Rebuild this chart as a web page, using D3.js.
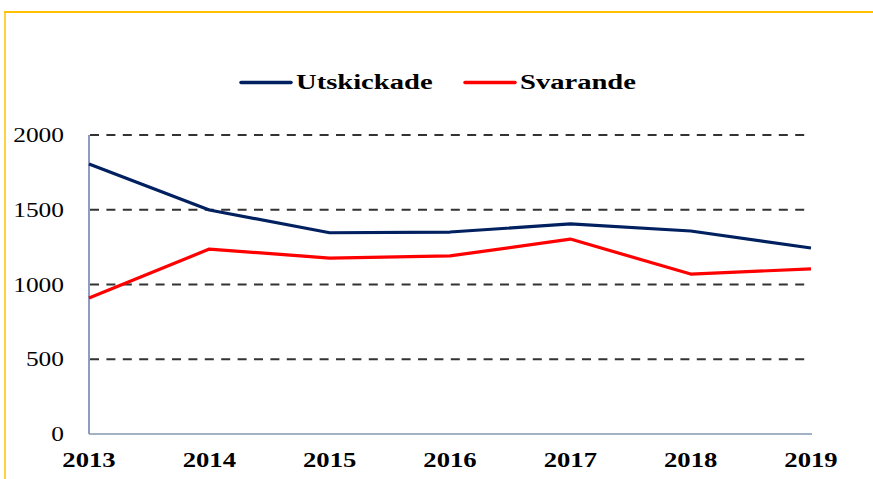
<!DOCTYPE html>
<html><head><meta charset="utf-8">
<script src="https://cdn.jsdelivr.net/npm/d3@7"></script>
<style>html,body{margin:0;padding:0;background:#fff;}svg{display:block;}</style>
</head><body>
<svg id="c" width="873" height="479"></svg>
<script>
const years = ["2013","2014","2015","2016","2017","2018","2019"];
const utskickade = [1806, 1498, 1346, 1351, 1405, 1358, 1244];
const svarande = [910, 1237, 1177, 1191, 1304, 1070, 1104];
const yTicks = [0, 500, 1000, 1500, 2000];
const seriesNames = ["Utskickade", "Svarande"];
const seriesColors = ["#002060", "#ff0000"];

const svg = d3.select("#c");
const SX = 1.27;

// yellow frame
svg.append("line").attr("x1",4).attr("x2",873).attr("y1",12).attr("y2",12).attr("stroke","#ffc000").attr("stroke-width",2);
svg.append("line").attr("x1",5).attr("x2",5).attr("y1",11).attr("y2",479).attr("stroke","#ffc000").attr("stroke-width",1.5);

const x = d3.scalePoint().domain(years).range([89, 811]);
const y = d3.scaleLinear().domain([0, 2000]).range([434, 135]);

// gridlines
svg.append("g").selectAll("line").data(yTicks.filter(d=>d>0)).join("line")
  .attr("x1",90).attr("x2",811).attr("y1",d=>y(d)).attr("y2",d=>y(d))
  .attr("stroke","#333").attr("stroke-width",2).attr("stroke-dasharray","9,7.4");

// axes lines
svg.append("line").attr("x1",89).attr("x2",89).attr("y1",y(2000)).attr("y2",y(0)).attr("stroke","#203a80").attr("stroke-width",1);
svg.append("line").attr("x1",89).attr("x2",812).attr("y1",y(0)).attr("y2",y(0)).attr("stroke","#8497b0").attr("stroke-width",1.5);

// y labels
svg.append("g").selectAll("text").data(yTicks).join("text")
  .attr("transform",d=>`translate(64,${y(d)+7}) scale(${SX},1)`)
  .attr("text-anchor","end").attr("font-family","'Liberation Serif', 'Times New Roman', serif")
  .attr("font-size",20).attr("fill","#000").text(d=>d);

// x labels
svg.append("g").selectAll("text").data(years).join("text")
  .attr("transform",d=>`translate(${x(d)},467) scale(${SX},1)`)
  .attr("text-anchor","middle").attr("font-family","'Liberation Serif', 'Times New Roman', serif")
  .attr("font-weight","bold").attr("font-size",21).attr("fill","#000").text(d=>d);

// lines
const line = d3.line().x((d,i)=>x(years[i])).y(d=>y(d));
[utskickade, svarande].forEach((s,k)=>{
  svg.append("path").datum(s).attr("d",line).attr("fill","none")
    .attr("stroke",seriesColors[k]).attr("stroke-width",3.2).attr("stroke-linejoin","round");
});

// legend
const legX = [241, 465];
seriesNames.forEach((n,k)=>{
  svg.append("line").attr("x1",legX[k]).attr("x2",legX[k]+50).attr("y1",82.5).attr("y2",82.5)
    .attr("stroke",seriesColors[k]).attr("stroke-width",3.5).attr("stroke-linecap","round");
  svg.append("text").attr("transform",`translate(${legX[k]+55},89) scale(1.3,1)`)
    .attr("font-family","'Liberation Serif', 'Times New Roman', serif").attr("font-weight","bold")
    .attr("font-size",22).attr("fill","#000").text(n);
});
</script>
</body></html>
